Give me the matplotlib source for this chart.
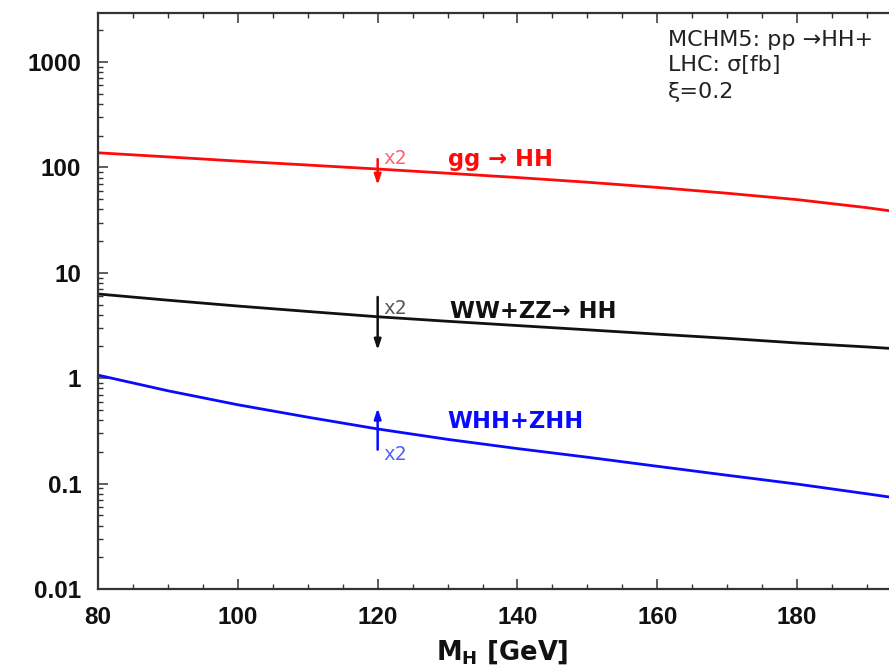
import matplotlib
matplotlib.use("Agg")
import matplotlib.pyplot as plt
from matplotlib.ticker import FixedLocator, MultipleLocator, LogLocator, NullFormatter

plt.rcParams['font.family'] = ['DejaVu Sans']
plt.rcParams['mathtext.fontset'] = 'dejavusans'

# ---- data ----
mass = [80, 90, 100, 110, 120, 130, 140, 150, 160, 170, 180, 190, 193.2]
sigma_gg = [137.7, 125.9, 114.8, 105.4, 96.6, 88.1, 80.2, 72.4, 64.6, 56.9, 49.5, 41.5, 38.8]
sigma_vbf = [6.3, 5.5, 4.84, 4.30, 3.83, 3.47, 3.16, 2.88, 2.62, 2.39, 2.16, 1.98, 1.92]
sigma_vhh = [1.07, 0.76, 0.56, 0.427, 0.33, 0.263, 0.215, 0.178, 0.146, 0.120, 0.099, 0.080, 0.0746]

arrow_x = 120
arrow_gg = (120, 68)      # (tail, tip)
arrow_vbf = (5.9, 1.85)
arrow_vhh = (0.21, 0.52)

ytick_vals = [0.01, 0.1, 1, 10, 100, 1000]
ytick_labels = ['0.01', '0.1', '1', '10', '100', '1000']
xtick_vals = [80, 100, 120, 140, 160, 180]
xtick_labels = ['80', '100', '120', '140', '160', '180']

red = '#ff0a0a'
blue = '#0a0aff'
black = '#111111'

W, H = 889, 668
fig = plt.figure(figsize=(W / 100, H / 100), dpi=100)
left_px, right_px, top_px, bot_px = 98, 937, 13, 589
ax = fig.add_axes([left_px / W, (H - bot_px) / H, (right_px - left_px) / W, (bot_px - top_px) / H])

ax.plot(mass, sigma_gg, color=red, lw=2.0)
ax.plot(mass, sigma_vbf, color=black, lw=2.0)
ax.plot(mass, sigma_vhh, color=blue, lw=2.0)

ax.set_yscale('log')
ax.set_xlim(80, 200)
ax.set_ylim(0.01, 2920)

for (tail, tip), c in [(arrow_gg, red), (arrow_vbf, black), (arrow_vhh, blue)]:
    ax.annotate('', xy=(arrow_x, tip), xytext=(arrow_x, tail),
                arrowprops=dict(arrowstyle='-|>,head_length=0.6,head_width=0.2',
                                color=c, lw=1.8, shrinkA=0, shrinkB=0))

mono = ['DejaVu Sans Mono']
ax.text(120.8, 108, 'x2', color='#ff6070', fontsize=14, family=mono, va='baseline', ha='left')
ax.text(120.8, 4.06, 'x2', color='#555555', fontsize=14, family=mono, va='baseline', ha='left')
ax.text(120.8, 0.168, 'x2', color='#5060ff', fontsize=14, family=mono, va='baseline', ha='left')

ax.text(130, 103, 'gg → HH', color=red, fontsize=16.3, fontweight='bold', va='baseline', ha='left')
ax.text(130.3, 3.72, 'WW+ZZ→ HH', color=black, fontsize=16.3, fontweight='bold', va='baseline', ha='left')
ax.text(130, 0.337, 'WHH+ZHH', color=blue, fontsize=16.3, fontweight='bold', va='baseline', ha='left')

fig.text(668 / W, 1 - 46 / H, 'MCHM5: pp →HH+', fontsize=16, va='baseline', ha='left', color='#222222')
fig.text(668 / W, 1 - 71 / H, 'LHC: σ[fb]', fontsize=16, va='baseline', ha='left', color='#222222')
fig.text(668 / W, 1 - 98 / H, 'ξ=0.2', fontsize=16, va='baseline', ha='left', color='#222222')

ax.yaxis.set_major_locator(FixedLocator(ytick_vals))
ax.set_yticklabels(ytick_labels)
ax.yaxis.set_minor_locator(LogLocator(base=10, subs=range(2, 10), numticks=20))
ax.yaxis.set_minor_formatter(NullFormatter())
ax.xaxis.set_major_locator(FixedLocator(xtick_vals))
ax.set_xticklabels(xtick_labels)
ax.xaxis.set_minor_locator(MultipleLocator(5))

ax.tick_params(which='both', direction='in', top=True, right=True, colors='#333333',
               labelcolor='#111111')
ax.tick_params(which='major', length=7, width=1.1, pad=12)
ax.tick_params(which='minor', length=3.5, width=1.0)
for lab in ax.get_xticklabels() + ax.get_yticklabels():
    lab.set_fontweight('bold')
    lab.set_family(['Liberation Sans', 'DejaVu Sans'])
    lab.set_fontsize(17.5)

for sp in ax.spines.values():
    sp.set_linewidth(1.6)
    sp.set_color('#333333')

fig.text(502 / W, 1 - 652 / H, r'$\mathbf{M_H}$ [GeV]', fontsize=18.5, fontweight='bold',
         ha='center', va='center', color='#111111')

fig.savefig('out.png', dpi=100)
